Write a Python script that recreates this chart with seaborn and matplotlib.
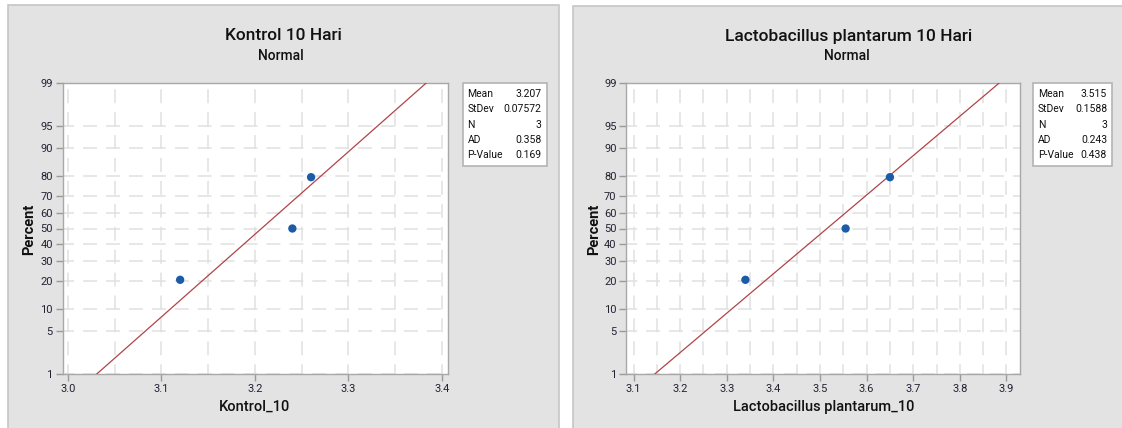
import matplotlib
matplotlib.use("Agg")
import numpy as np
import pandas as pd
import matplotlib.pyplot as plt
import seaborn as sns
from statistics import NormalDist
from matplotlib.patches import Rectangle

# values
pct_ticks = [1, 5, 10, 20, 30, 40, 50, 60, 70, 80, 90, 95, 99]
pct_points = [20.6, 50.0, 79.4]

kontrol_x = [3.12, 3.24, 3.26]
kontrol_stats = ["3.207", "0.07572", "3", "0.358", "0.169"]
kontrol_mean, kontrol_sd = 3.207, 0.07572

lacto_x = [3.34, 3.555, 3.65]
lacto_stats = ["3.515", "0.1588", "3", "0.243", "0.438"]
lacto_mean, lacto_sd = 3.515, 0.1588

stat_names = ["Mean", "StDev", "N", "AD", "P-Value"]

sns.set_theme(style="white")
plt.rcParams["font.family"] = ["Roboto", "DejaVu Sans"]
plt.rcParams["lines.scale_dashes"] = False

W, H = 1122, 428
fig = plt.figure(figsize=(W / 100, H / 100), dpi=100)
fig.patch.set_facecolor("white")


def z(p):
    return NormalDist().inv_cdf(p / 100.0)


def fx(px):
    return px / W


def fy(py):
    return 1 - py / H


# gray panel backgrounds
fig.patches.append(Rectangle((fx(8), -0.01), fx(559 - 8), fy(5) + 0.01, transform=fig.transFigure,
                             facecolor="#e3e3e3", edgecolor="#c6c6c6", lw=1.2, zorder=0))
fig.patches.append(Rectangle((fx(573), -0.01), fx(1130 - 573), fy(6) + 0.01, transform=fig.transFigure,
                             facecolor="#e3e3e3", edgecolor="#c6c6c6", lw=1.2, zorder=0))


def panel(left, right, xs, mean, sd, xlim, xmajor, xminor, title, xlabel, stats,
          title_x, label_x, ylabel_x, box):
    ax = fig.add_axes([fx(left), fy(374), fx(right - left), fy(83) - fy(374)])
    ax.set_facecolor("white")
    ax.set_zorder(2)

    ax.set_xlim(*xlim)
    ax.set_ylim(z(1), z(99))
    ax.set_xticks(xmajor)
    ax.set_xticks(xminor, minor=True)
    ax.set_xticklabels([f"{v:.1f}" for v in xmajor])
    ax.set_yticks([z(p) for p in pct_ticks])
    ax.set_yticklabels([str(p) for p in pct_ticks])

    ax.grid(True, which="both", axis="x", color="#e0e0e0", lw=1.1, linestyle=(3, (10, 6.5)))
    ax.grid(True, which="major", axis="y", color="#e0e0e0", lw=1.1, linestyle=(2, (10, 6.5)))
    ax.set_axisbelow(True)

    ax.tick_params(which="major", direction="out", length=5, width=1, color="#9a9a9a",
                   labelsize=8, labelcolor="#222233", pad=2, left=True, bottom=True)
    ax.tick_params(which="minor", length=0)
    for s in ax.spines.values():
        s.set_color("#a8a8a8")
        s.set_linewidth(1)

    # fitted normal line between 1% and 99%
    fit = pd.DataFrame({"x": [mean + sd * z(1), mean + sd * z(99)], "y": [z(1), z(99)]})
    sns.lineplot(data=fit, x="x", y="y", ax=ax, color="#b04448", lw=0.9, zorder=3)

    pts = pd.DataFrame({"x": xs, "y": [z(p) for p in pct_points]})
    sns.scatterplot(data=pts, x="x", y="y", ax=ax, color="#1a5ca8", s=36, edgecolor="none", zorder=4)

    ax.set_xlabel("")
    ax.set_ylabel("")

    fig.text(fx(title_x), fy(36), title, ha="center", va="center", fontsize=12.5,
             fontweight="medium", color="#111111")
    fig.text(fx(title_x - 2), fy(56), "Normal", ha="center", va="center", fontsize=10,
             fontweight="medium", color="#111111")
    fig.text(fx(label_x), fy(407), xlabel, ha="center", va="center", fontsize=10.5,
             fontweight="medium", color="#111111")
    fig.text(fx(ylabel_x), fy(229), "Percent", ha="center", va="center", rotation=90,
             fontsize=10.5, fontweight="bold", color="#111111")

    bl, br = box
    fig.patches.append(Rectangle((fx(bl), fy(166)), fx(br - bl), fy(83) - fy(166),
                                 transform=fig.transFigure, facecolor="white",
                                 edgecolor="#b4b4b4", lw=1.2, zorder=1))
    for i, (n, v) in enumerate(zip(stat_names, stats)):
        yy = 94 + i * 15.3
        fig.text(fx(bl + 5), fy(yy), n, ha="left", va="center", fontsize=7.5, color="#111111")
        fig.text(fx(br - 5), fy(yy), v, ha="right", va="center", fontsize=7.5, color="#111111")
    return ax


panel(62.5, 447.5, kontrol_x, kontrol_mean, kontrol_sd, (2.9942, 3.4059),
      [3.0, 3.1, 3.2, 3.3, 3.4], np.arange(3.05, 3.4, 0.1),
      "Kontrol 10 Hari", "Kontrol_10", kontrol_stats, 283, 255, 29, (462.5, 546.5))

panel(626.3, 1020, lacto_x, lacto_mean, lacto_sd, (3.0845, 3.929),
      [3.1, 3.2, 3.3, 3.4, 3.5, 3.6, 3.7, 3.8, 3.9], np.arange(3.15, 3.9, 0.1),
      "Lactobacillus plantarum 10 Hari", "Lactobacillus plantarum_10", lacto_stats,
      848.5, 823.5, 594, (1033, 1112))

fig.savefig("out.png", dpi=100)
